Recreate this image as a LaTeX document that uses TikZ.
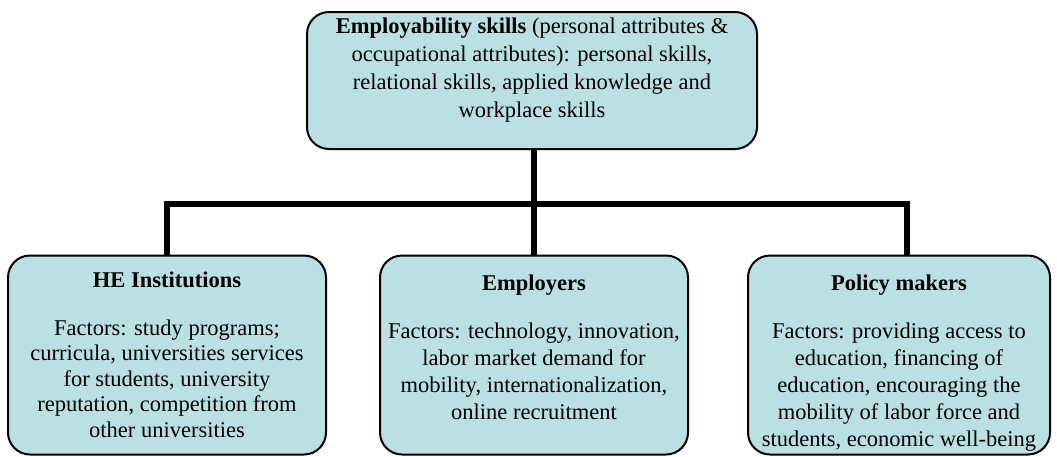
\documentclass[tikz,border=0pt]{standalone}
\usepackage{fontspec}
\setmainfont{Liberation Serif}
\usepackage{xcolor}
\usepackage{tikz}
\usetikzlibrary{calc, positioning}

\definecolor{BoxBlue}{RGB}{187,224,227}

\begin{document}
\begin{tikzpicture}[x=1pt, y=-1pt,
        box/.style={draw, line width=2pt, fill=BoxBlue, rounded corners=22pt,
            align=center, inner sep=0pt, font=\fontsize{22.5}{25.5}\selectfont},
        link/.style={line width=6.5pt}]
            \useasboundingbox (0,0) rectangle (1057,456);
            \node[box, minimum width=450pt, minimum height=137pt] (skills) at (532,80.5)
                {\textbf{Employability skills} (personal attributes \&\\[2.5pt]
                occupational attributes): personal skills,\\[2.5pt]
                relational skills, applied knowledge and\\[2.5pt]
                workplace skills\\[0pt]};
            \node[box, minimum width=318pt, minimum height=199pt] (heinst) at (167,355)
                {\textbf{HE Institutions}\\[22pt]
                Factors: study programs;\\
                curricula, universities services\\
                for students, university\\
                reputation, competition from\\
                other universities};
            \node[box, minimum width=308pt, minimum height=199pt] (employ) at (534,355)
                {\textbf{Employers}\\[23pt]
                Factors: technology, innovation,\\[1.5pt]
                labor market demand for\\[1.5pt]
                mobility, internationalization,\\[1.5pt]
                online recruitment\\[-9.5pt]};
            \node[box, minimum width=302pt, minimum height=199pt] (policy) at (899,355)
                {\rule{0pt}{32pt}\textbf{Policy makers}\\[22pt]
                Factors: providing access to\\[1.5pt]
                education, financing of\\[1.5pt]
                education, encouraging the\\[1.5pt]
                mobility of labor force and\\[1.5pt]
                students, economic well-being};
            \coordinate (hub) at ($(skills.south)+(2,54)$);
            \draw[link] (skills.south -| hub) -- (employ.north -| hub);
            \draw[link] (heinst.north) -- (heinst.north |- hub) -- ($(policy.north |- hub)+(8,0)$) -- ($(policy.north)+(8,0)$);
        \end{tikzpicture}
\end{document}
